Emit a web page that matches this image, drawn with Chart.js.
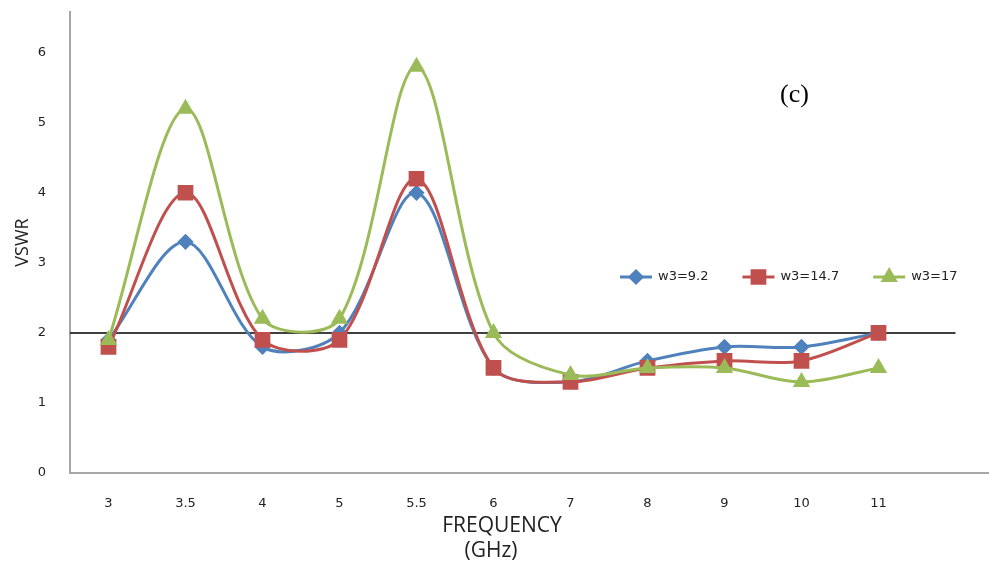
<!DOCTYPE html>
<html>
<head>
<meta charset="utf-8">
<script src="https://cdn.jsdelivr.net/npm/chart.js@4.4.0/dist/chart.umd.min.js"></script>
<style>
  html, body { margin: 0; padding: 0; background: #fff; }
  #wrap { width: 989px; height: 566px; overflow: hidden; }
</style>
</head>
<body>
<!-- canvas a bit wider than the page: the x axis runs off the right edge like the original -->
<div id="wrap"><canvas id="vswrChart" width="1006" height="566"></canvas></div>
<script>
// frequencies (GHz) - last one empty, Excel leaves a blank slot at the right
const freqLabels = ['3', '3.5', '4', '5', '5.5', '6', '7', '8', '9', '10', '11', ''];

// VSWR values
const w3_92  = [1.9, 3.3, 1.8, 2.0, 4.0, 1.5, 1.3, 1.6, 1.8, 1.8, 2.0, null];
const w3_147 = [1.8, 4.0, 1.9, 1.9, 4.2, 1.5, 1.3, 1.5, 1.6, 1.6, 2.0, null];
const w3_17  = [1.9, 5.2, 2.2, 2.2, 5.8, 2.0, 1.4, 1.5, 1.5, 1.3, 1.5, null];

const yTicks = [0, 1, 2, 3, 4, 5, 6];
const vswrLimit = 2;

const blue = '#4F81BD';
const red = '#C0504D';
const green = '#9BBB59';
const axisGray = '#A6A6A6';

// drop the label padding chart.js adds around the axes
function noPad(scale) {
    scale.paddingTop = 0;
    scale.paddingBottom = 0;
    scale.paddingLeft = 0;
    scale.paddingRight = 0;
}

// extra drawing: VSWR=2 line, inline legend, (c) tag, x title
const extras = {
    id: 'extras',
    beforeDatasetsDraw(chart) {
        const { ctx, chartArea, scales } = chart;
        const y = scales.y.getPixelForValue(vswrLimit);
        const xEnd = scales.x.getPixelForValue(freqLabels.length - 1);
        ctx.save();
        ctx.strokeStyle = '#000';
        ctx.lineWidth = 1.5;
        ctx.beginPath();
        ctx.moveTo(chartArea.left, y);
        ctx.lineTo(xEnd, y);
        ctx.stroke();
        ctx.restore();
    },
    afterDraw(chart) {
        const { ctx } = chart;
        ctx.save();

        // legend
        let x = 620;
        const ly = 277;
        ctx.font = '13px "DejaVu Sans"';
        ctx.textBaseline = 'middle';
        ctx.textAlign = 'left';
        chart.data.datasets.forEach(ds => {
            ctx.strokeStyle = ds.borderColor;
            ctx.lineWidth = 3;
            ctx.beginPath();
            ctx.moveTo(x, ly);
            ctx.lineTo(x + 32, ly);
            ctx.stroke();
            ctx.fillStyle = ds.pointBackgroundColor;
            ctx.strokeStyle = ds.pointBorderColor;
            Chart.helpers.drawPoint(ctx, {
                pointStyle: ds.pointStyle,
                radius: ds.pointRadius,
                rotation: 0,
                borderWidth: 1
            }, x + 16, ly);
            ctx.fillStyle = '#222';
            ctx.fillText(ds.label, x + 38, ly);
            x += 38 + ctx.measureText(ds.label).width + 34;
        });

        // panel tag
        ctx.font = '26px "Liberation Serif"';
        ctx.fillStyle = '#000';
        ctx.fillText('(c)', 780, 95);

        // x axis title
        ctx.font = '21px "Open Sans"';
        ctx.fillStyle = '#222';
        ctx.textAlign = 'center';
        ctx.fillText('FREQUENCY', 502, 526);
        ctx.fillText('(GHz)', 491, 551);
        ctx.restore();
    }
};

const ctxV = document.getElementById('vswrChart').getContext('2d');
const vswrChart = new Chart(ctxV, {
    type: 'line',
    data: {
        labels: freqLabels,
        datasets: [{
            label: 'w3=9.2',
            data: w3_92,
            borderColor: blue,
            backgroundColor: blue,
            pointBackgroundColor: blue,
            pointBorderColor: blue,
            pointStyle: 'rectRot',
            pointRadius: 6,
            borderWidth: 3,
            tension: 0.32,
            order: 2
        }, {
            label: 'w3=14.7',
            data: w3_147,
            borderColor: red,
            backgroundColor: red,
            pointBackgroundColor: red,
            pointBorderColor: red,
            pointStyle: 'rect',
            pointRadius: 9,
            borderWidth: 3,
            tension: 0.32,
            order: 1
        }, {
            label: 'w3=17',
            data: w3_17,
            borderColor: green,
            backgroundColor: green,
            pointBackgroundColor: green,
            pointBorderColor: green,
            pointStyle: 'triangle',
            pointRadius: 7,
            borderWidth: 3,
            tension: 0.32,
            order: 0
        }]
    },
    options: {
        responsive: false,
        animation: false,
        clip: false,
        layout: { padding: { top: 8, right: 0, left: 0, bottom: 0 } },
        plugins: {
            legend: { display: false },
            tooltip: { enabled: false }
        },
        scales: {
            x: {
                offset: true,
                grid: { display: false },
                border: { display: true, color: axisGray, width: 2 },
                ticks: {
                    color: '#222',
                    font: { family: 'DejaVu Sans', size: 13 },
                    padding: 15,
                    maxRotation: 0,
                    autoSkip: false
                },
                afterFit(scale) { scale.height = 93; noPad(scale); }
            },
            y: {
                min: 0,
                max: 6.58,
                grid: { display: false },
                border: { display: true, color: axisGray, width: 2 },
                ticks: {
                    stepSize: 1,
                    color: '#222',
                    font: { family: 'DejaVu Sans', size: 13 },
                    padding: 16
                },
                afterBuildTicks(axis) {
                    axis.ticks = yTicks.map(v => ({ value: v }));
                },
                title: {
                    display: true,
                    text: 'VSWR',
                    color: '#222',
                    font: { family: 'Open Sans', size: 18 },
                    padding: { top: 12, bottom: 0 }
                },
                afterFit(scale) { scale.width = 70; noPad(scale); }
            }
        }
    },
    plugins: [extras]
});
</script>
</body>
</html>
